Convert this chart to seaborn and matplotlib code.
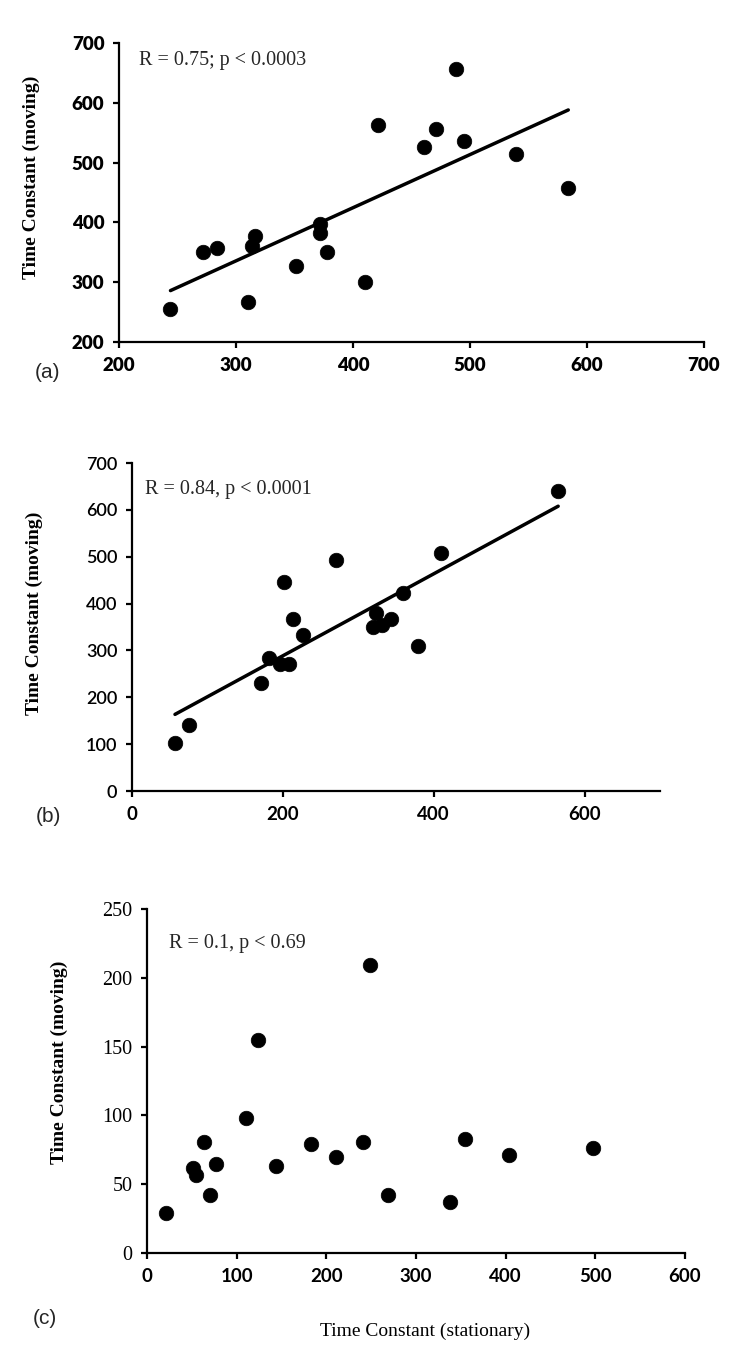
import numpy as np
import pandas as pd
import matplotlib
matplotlib.use("Agg")
import matplotlib.pyplot as plt
import seaborn as sns

# ---------------- data ----------------
a_stationary = [244, 272, 284, 310, 314, 316, 351, 372, 372, 378, 410, 421, 461, 471, 488, 495, 539, 584]
a_moving = [255, 351, 357, 267, 361, 378, 327, 397, 382, 350, 301, 563, 526, 557, 657, 536, 514, 458]

b_stationary = [57, 76, 171, 181, 196, 208, 201, 213, 227, 270, 320, 323, 332, 343, 359, 379, 410, 565]
b_moving = [102, 140, 231, 284, 272, 272, 445, 367, 333, 492, 350, 380, 355, 368, 423, 309, 507, 641]

c_stationary = [21, 51, 55, 64, 70, 77, 110, 124, 144, 183, 211, 241, 249, 269, 338, 355, 404, 497]
c_moving = [29, 62, 57, 81, 42, 65, 98, 155, 63, 79, 70, 81, 209, 42, 37, 83, 71, 76]

a_xticks = [200, 300, 400, 500, 600, 700]
a_yticks = [200, 300, 400, 500, 600, 700]
b_xticks = [0, 200, 400, 600]
b_yticks = [0, 100, 200, 300, 400, 500, 600, 700]
c_xticks = [0, 100, 200, 300, 400, 500, 600]
c_yticks = [0, 50, 100, 150, 200, 250]

annot_a = "R = 0.75; p < 0.0003"
annot_b = "R = 0.84, p < 0.0001"
annot_c = "R = 0.1, p < 0.69"
ylabel = "Time Constant (moving)"
xlabel = "Time Constant (stationary)"

# ---------------- style ----------------
sns.set_style("ticks")
plt.rcParams["font.family"] = ["Lato", "DejaVu Sans"]
plt.rcParams["axes.linewidth"] = 1.6
plt.rcParams["xtick.major.width"] = 1.6
plt.rcParams["ytick.major.width"] = 1.6
plt.rcParams["xtick.major.size"] = 4.5
plt.rcParams["ytick.major.size"] = 4.5
plt.rcParams["axes.edgecolor"] = "black"

W, H = 750, 1356
fig = plt.figure(figsize=(W / 100, H / 100), dpi=100)


def axes_px(left, right, top, bottom):
    return fig.add_axes([left / W, 1 - bottom / H, (right - left) / W, (bottom - top) / H])


ax_a = axes_px(119, 704, 43, 342)
ax_b = axes_px(132, 660, 463, 791)
ax_c = axes_px(147, 685, 909, 1253)

scat_kw = dict(s=110, color="black", edgecolor="black", linewidths=0.5, alpha=1, zorder=3)
line_kw = dict(color="black", lw=2.5, zorder=2)

df_a = pd.DataFrame({"x": a_stationary, "y": a_moving})
df_b = pd.DataFrame({"x": b_stationary, "y": b_moving})
df_c = pd.DataFrame({"x": c_stationary, "y": c_moving})

sns.regplot(data=df_a, x="x", y="y", ax=ax_a, ci=None, truncate=True,
            scatter_kws=scat_kw, line_kws=line_kw)
sns.regplot(data=df_b, x="x", y="y", ax=ax_b, ci=None, truncate=True,
            scatter_kws=scat_kw, line_kws=line_kw)
sns.scatterplot(data=df_c, x="x", y="y", ax=ax_c, s=110, color="black",
                edgecolor="black", linewidth=0.5, zorder=3)

# limits / ticks
ax_a.set_xlim(200, 700); ax_a.set_ylim(200, 700)
ax_a.set_xticks(a_xticks); ax_a.set_yticks(a_yticks)
ax_b.set_xlim(0, 700); ax_b.set_ylim(0, 700)
ax_b.set_xticks(b_xticks); ax_b.set_yticks(b_yticks)
ax_c.set_xlim(0, 600); ax_c.set_ylim(0, 250)
ax_c.set_xticks(c_xticks); ax_c.set_yticks(c_yticks)

for ax in (ax_a, ax_b, ax_c):
    sns.despine(ax=ax)
    ax.set_xlabel("")
    ax.set_ylabel("")
    ax.tick_params(direction="out", colors="black", pad=6)

sansf = ["Lato", "DejaVu Sans"]
serif = ["Liberation Serif", "DejaVu Serif"]

# tick label fonts
for lab in ax_a.get_xticklabels() + ax_a.get_yticklabels():
    lab.set_fontfamily(sansf); lab.set_fontweight("heavy"); lab.set_fontsize(13.5)
for lab in ax_b.get_xticklabels():
    lab.set_fontfamily(sansf); lab.set_fontweight("bold"); lab.set_fontsize(13.5)
for lab in ax_b.get_yticklabels():
    lab.set_fontfamily(sansf); lab.set_fontweight("semibold"); lab.set_fontsize(13)
for lab in ax_c.get_xticklabels():
    lab.set_fontfamily(sansf); lab.set_fontweight("bold"); lab.set_fontsize(13.5)
for lab in ax_c.get_yticklabels():
    lab.set_fontfamily(serif); lab.set_fontweight("normal"); lab.set_fontsize(14.5)

# y labels
for ax, lx, ly in ((ax_a, -0.135, 0.55), (ax_b, -0.169, 0.543), (ax_c, -0.147, 0.555)):
    ax.set_ylabel(ylabel, fontfamily=serif, fontweight="bold", fontsize=14, color="black")
    ax.yaxis.set_label_coords(lx, ly)

ax_c.set_xlabel(xlabel, fontfamily=serif, fontsize=14, color="black")
ax_c.xaxis.set_label_coords(0.517, -0.203)

# annotations
ax_a.text(0.034, 0.943, annot_a, transform=ax_a.transAxes, fontfamily=serif,
          fontsize=14.5, va="center", ha="left")
ax_b.text(0.025, 0.918, annot_b, transform=ax_b.transAxes, fontfamily=serif,
          fontsize=14.5, va="center", ha="left")
ax_c.text(0.041, 0.901, annot_c, transform=ax_c.transAxes, fontfamily=serif,
          fontsize=14.5, va="center", ha="left")

# panel letters
sans = ["Liberation Sans", "DejaVu Sans"]
fig.text(47 / W, 1 - 372 / H, "(a)", fontfamily=sans, fontsize=15, ha="center", va="center")
fig.text(48 / W, 1 - 816 / H, "(b)", fontfamily=sans, fontsize=15, ha="center", va="center")
fig.text(45 / W, 1 - 1318 / H, "(c)", fontfamily=sans, fontsize=15, ha="center", va="center")

fig.savefig("out.png", dpi=100, facecolor="white")
